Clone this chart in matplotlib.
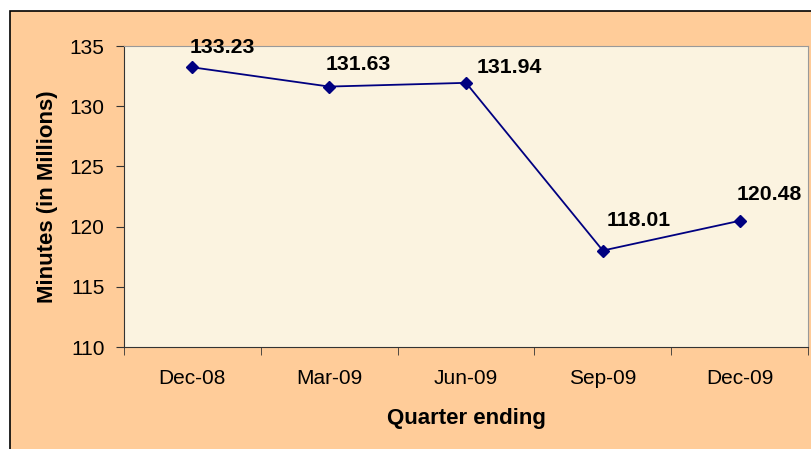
import matplotlib.pyplot as plt
from matplotlib.patches import Rectangle

plt.rcParams["font.family"] = ["Liberation Sans", "DejaVu Sans"]

quarters = ["Dec-08", "Mar-09", "Jun-09", "Sep-09", "Dec-09"]
minutes = [133.23, 131.63, 131.94, 118.01, 120.48]
y_ticks = [110, 115, 120, 125, 130, 135]

# per-label offsets in points (Excel-style label placement)
label_offsets = [(21.5, 14), (21, 16), (31, 11), (26, 22), (21, 19)]

fig = plt.figure(figsize=(8.11, 4.49), dpi=100, facecolor="white")
fig.patches.append(Rectangle((10 / 811, -0.05), 1.05, 1 - 11 / 449 + 0.05,
                             transform=fig.transFigure, facecolor="#FFCC99",
                             edgecolor="black", linewidth=1.2, zorder=-10))

ax = fig.add_axes([124 / 811, 102 / 449, 684 / 811, 301 / 449])
ax.set_facecolor("#FBF3E0")

x = list(range(len(quarters)))
ax.plot(x, minutes, color="#000080", linewidth=1.3, marker="D",
        markersize=6.5, markerfacecolor="#000080", markeredgecolor="#000080")

for xi, v, off in zip(x, minutes, label_offsets):
    ax.annotate(f"{v:.2f}", (xi, v), xytext=off, textcoords="offset points",
                ha="center", va="center", fontsize=15.3, fontweight="bold")

ax.set_xlim(-0.5, len(quarters) - 0.5)
ax.set_ylim(110, 135)
ax.set_yticks(y_ticks)
ax.set_yticklabels([str(t) for t in y_ticks], fontsize=15)
ax.set_xticks(x)
ax.set_xticklabels(quarters, fontsize=15)
ax.tick_params(axis="x", length=0, pad=16)
ax.set_xticks([i - 0.5 for i in range(len(quarters) + 1)], minor=True)
ax.tick_params(axis="x", which="minor", length=6, direction="out", color="#333333")
ax.tick_params(axis="y", length=6, direction="out", color="#333333", pad=8)

ax.set_xlabel("Quarter ending", fontsize=16, fontweight="bold", labelpad=14)
ax.set_ylabel("Minutes (in Millions)", fontsize=16, fontweight="bold", labelpad=8)

ax.spines["left"].set_color("#333333")
ax.spines["bottom"].set_color("#333333")
ax.spines["top"].set_color("#999999")
ax.spines["right"].set_color("#999999")

fig.savefig("out.png", dpi=100)
